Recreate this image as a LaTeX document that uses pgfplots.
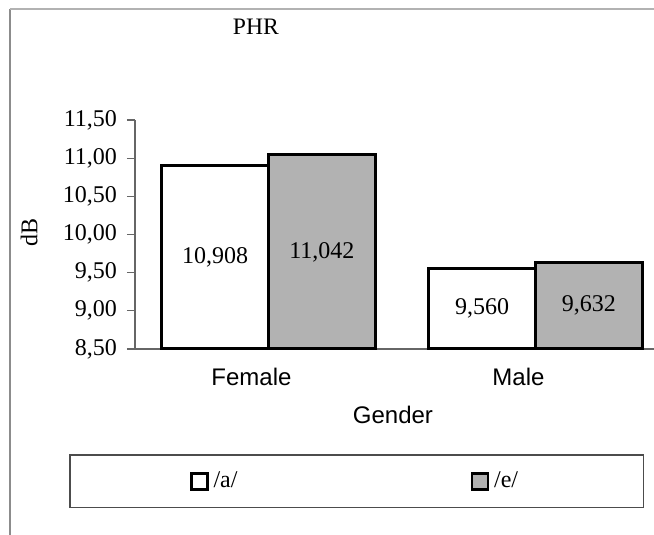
\documentclass[border=0pt]{standalone}
\usepackage{pgfplots}
\pgfplotsset{compat=1.18}
\usepackage{fontspec}
\setmainfont{Liberation Serif}
\newfontfamily\arial{Liberation Sans}
\definecolor{barGrey}{RGB}{178,178,178}
\begin{document}
\begin{tikzpicture}
\path[use as bounding box] (0pt,0pt) rectangle (327pt,267.5pt);
\draw[black!45, line width=0.6pt] (5pt,0pt) -- (5pt,263pt);
\draw[black!30, line width=1.1pt] (4.85pt,263pt) -- (327pt,263pt);
\begin{axis}[
  at={(67.5pt,93pt)}, anchor=south west,
  scale only axis, width=259.5pt, height=114.5pt,
  xmin=-0.5, xmax=1.444, ymin=8.5, ymax=11.5,
  axis x line=bottom, axis y line=left,
  axis line style={black!60, line width=0.6pt, -},
  xtick={0,1}, xticklabels={Female,Male},
  major x tick style={draw=none},
  extra x ticks={0.5}, extra x tick labels={},
  extra x tick style={major tick length=4pt, tick align=outside, tick style={black!60, line width=0.6pt}},
  xticklabel style={font=\arial\fontsize{12}{14}\selectfont, xshift=-8.5pt, yshift=-2pt},
  ytick={8.5,9,9.5,10,10.5,11,11.5},
  tick align=outside, major tick length=4pt,
  tick style={black!60, line width=0.6pt},
  yticklabel style={font=\fontsize{12}{14}\selectfont, xshift=-1.5pt},
  /pgf/number format/.cd, fixed, fixed zerofill, precision=2, use comma, assume math mode=true,
  /pgfplots/.cd,
  ylabel={dB}, ylabel style={at={(axis description cs:-0.204,0.507)}, anchor=center, font=\fontsize{12}{14}\selectfont},
  xlabel={Gender}, xlabel style={at={(axis description cs:0.497,-0.288)}, anchor=center, font=\arial\fontsize{12}{14}\selectfont},
  title={PHR}, title style={at={(axis description cs:0.233,1.355)}, anchor=center, font=\fontsize{11.8}{13}\selectfont},
  ybar, bar width=0.4,
  legend columns=2,
  legend style={at={(axis description cs:0.4268,-0.5786)}, anchor=center,
    draw=black!70, line width=0.6pt, inner xsep=60pt, inner ysep=6.5pt,
    font=\fontsize{12}{14}\selectfont,
    nodes={inner xsep=2.5pt},
    /tikz/every even column/.append style={column sep=114pt}},
  clip=false,
]
\addplot[fill=white, draw=black, line width=1.5pt, bar shift=-0.2,
  legend image code/.code={\draw[fill=white,draw=black,line width=1.3pt] (0pt,-4pt) rectangle (8pt,4pt);}]
  coordinates {(0,10.908) (1,9.560)};
\addplot[fill=barGrey, draw=black, line width=1.5pt, bar shift=0.2,
  legend image code/.code={\draw[fill=barGrey,draw=black,line width=1.3pt] (0pt,-4pt) rectangle (8pt,4pt);}]
  coordinates {(0,11.042) (1,9.632)};
\legend{/a/,/e/}
\node[font=\fontsize{12}{14}\selectfont] at (axis cs:-0.2,9.704) {10,908};
\node[font=\fontsize{12}{14}\selectfont] at (axis cs:0.2,9.771) {11,042};
\node[font=\fontsize{12}{14}\selectfont] at (axis cs:0.8,9.03) {9,560};
\node[font=\fontsize{12}{14}\selectfont] at (axis cs:1.2,9.066) {9,632};
\end{axis}
\end{tikzpicture}
\end{document}
